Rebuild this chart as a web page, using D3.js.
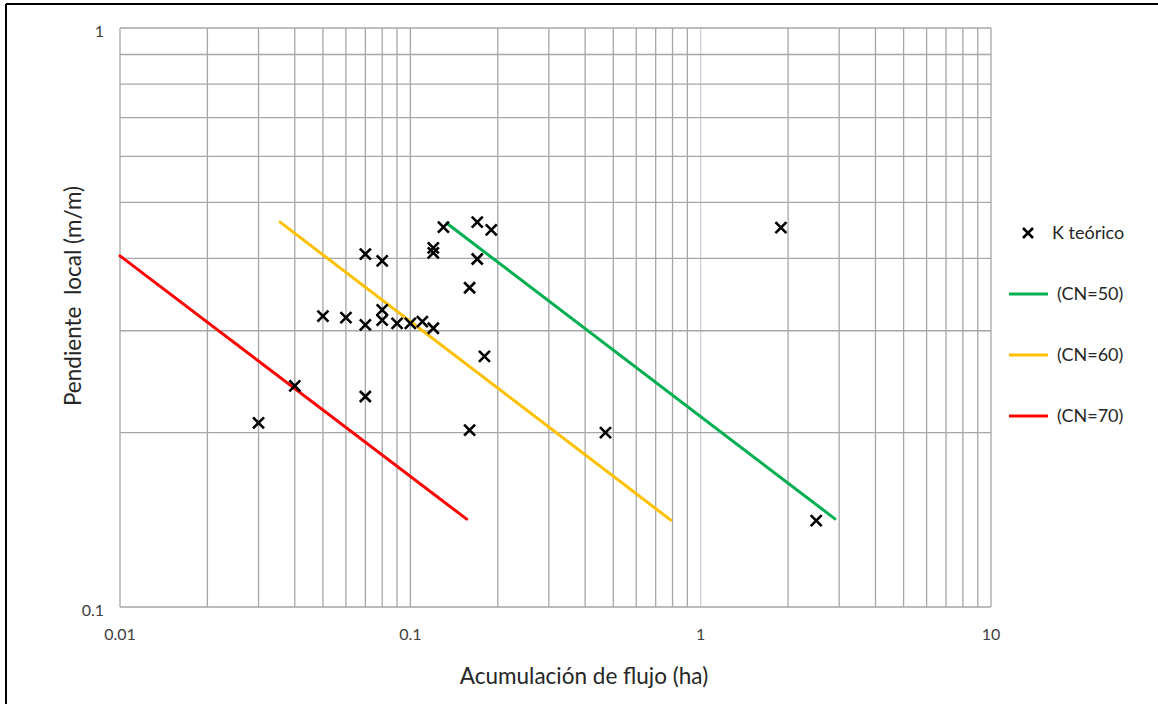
<!DOCTYPE html>
<html>
<head>
<meta charset="utf-8">
<script src="https://cdn.jsdelivr.net/npm/d3@7"></script>
<style>
  body { margin: 0; background: #fff; }
  svg { display: block; }
</style>
</head>
<body>
<script>
const W = 1158, H = 704;

// K teórico points (flow accumulation ha, local slope m/m)
const kFlow  = [0.03, 0.04, 0.05, 0.06, 0.07, 0.07, 0.07, 0.08, 0.08, 0.08, 0.09, 0.10, 0.11, 0.12,
                0.12, 0.12, 0.13, 0.17, 0.19, 0.17, 0.16, 0.18, 0.16, 0.47, 1.89, 2.5];
const kSlope = [0.208, 0.241, 0.318, 0.316, 0.407, 0.307, 0.231, 0.396, 0.326, 0.313, 0.309, 0.309, 0.311, 0.303,
                0.417, 0.409, 0.453, 0.462, 0.448, 0.399, 0.356, 0.271, 0.202, 0.2, 0.452, 0.141];

// curves, start and end
const cn50Flow = [0.1335, 2.9],   cn50Slope = [0.46, 0.142];
const cn60Flow = [0.0356, 0.789], cn60Slope = [0.462, 0.1413];
const cn70Flow = [0.01, 0.1564],  cn70Slope = [0.404, 0.1418];

const xTicks = [0.01, 0.1, 1, 10];
const yTicks = [0.1, 1];

const curves = [
  { name: '(CN=50)', color: '#00B050', xs: cn50Flow, ys: cn50Slope },
  { name: '(CN=60)', color: '#FFC000', xs: cn60Flow, ys: cn60Slope },
  { name: '(CN=70)', color: '#FF0000', xs: cn70Flow, ys: cn70Slope }
];

const font = 'Lato, "Open Sans", sans-serif';

const svg = d3.select('body').append('svg')
  .attr('width', W).attr('height', H);

svg.append('rect').attr('width', W).attr('height', H).attr('fill', '#fff');

// frame (only top and left visible)
svg.append('line').attr('x1', 6).attr('x2', W).attr('y1', 4).attr('y2', 4)
  .attr('stroke', '#000').attr('stroke-width', 2);
svg.append('line').attr('x1', 6).attr('x2', 6).attr('y1', 4).attr('y2', H)
  .attr('stroke', '#000').attr('stroke-width', 2);

const x = d3.scaleLog().domain([0.01, 10]).range([120, 991]);
const y = d3.scaleLog().domain([0.1, 1]).range([607, 28]);

// grid
const xGrid = [];
for (let e = -2; e < 1; e++) for (let m = 1; m <= 9; m++) xGrid.push(m * Math.pow(10, e));
xGrid.push(10);
const yGrid = d3.range(1, 11).map(m => m / 10);

const grid = svg.append('g');
grid.selectAll('.vg').data(xGrid).join('line')
  .attr('x1', d => x(d)).attr('x2', d => x(d))
  .attr('y1', y(1)).attr('y2', y(0.1))
  .attr('stroke', d => Math.abs(d - 1) < 1e-9 ? '#c9d1dc' : '#a6a6a6')
  .attr('stroke-width', 1.3);
grid.selectAll('.hg').data(yGrid).join('line')
  .attr('x1', x(0.01)).attr('x2', x(10))
  .attr('y1', d => y(d)).attr('y2', d => y(d))
  .attr('stroke', '#a6a6a6').attr('stroke-width', 1.3);

// tick labels
svg.append('g').selectAll('text').data(xTicks).join('text')
  .attr('x', d => x(d)).attr('y', 633)
  .attr('text-anchor', 'middle').attr('dominant-baseline', 'central')
  .attr('font-family', font).attr('font-size', 16).attr('fill', '#404040')
  .text(d => String(d));
svg.append('g').selectAll('text').data(yTicks).join('text')
  .attr('x', 104).attr('y', d => y(d) + 2)
  .attr('text-anchor', 'end').attr('dominant-baseline', 'central')
  .attr('font-family', font).attr('font-size', 16).attr('fill', '#404040')
  .text(d => String(d));

// axis titles
svg.append('text').attr('x', 584).attr('y', 675)
  .attr('text-anchor', 'middle').attr('dominant-baseline', 'central')
  .attr('font-family', font).attr('font-size', 22.5).attr('fill', '#262626')
  .text('Acumulación de flujo (ha)');
svg.append('text')
  .attr('transform', 'translate(72,296) rotate(-90)')
  .attr('text-anchor', 'middle').attr('dominant-baseline', 'central')
  .attr('font-family', font).attr('font-size', 22.5).attr('fill', '#262626')
  .attr('xml:space', 'preserve')
  .text('Pendiente  local (m/m)');

// curves
const line = d3.line().x(d => x(d[0])).y(d => y(d[1]));
svg.append('g').selectAll('path').data(curves).join('path')
  .attr('d', c => line(d3.zip(c.xs, c.ys)))
  .attr('fill', 'none').attr('stroke', c => c.color)
  .attr('stroke-width', 3).attr('stroke-linecap', 'round');

// x markers
const cross = s => `M${-s},${-s}L${s},${s}M${-s},${s}L${s},${-s}`;
svg.append('g').selectAll('path').data(d3.zip(kFlow, kSlope)).join('path')
  .attr('transform', d => `translate(${x(d[0])},${y(d[1])})`)
  .attr('d', cross(5.5))
  .attr('stroke', '#000').attr('stroke-width', 2.6).attr('fill', 'none');

// legend
const lg = svg.append('g').attr('font-family', font).attr('font-size', 18).attr('fill', '#262626');
lg.append('path').attr('transform', 'translate(1028,233)').attr('d', cross(5))
  .attr('stroke', '#000').attr('stroke-width', 2.6);
lg.append('text').attr('x', 1052).attr('y', 232).attr('dominant-baseline', 'central').text('K teórico');
curves.forEach((c, i) => {
  const ly = 294 + i * 61;
  lg.append('line').attr('x1', 1009).attr('x2', 1048).attr('y1', ly).attr('y2', ly)
    .attr('stroke', c.color).attr('stroke-width', 3);
  lg.append('text').attr('x', 1057).attr('y', ly - 1).attr('dominant-baseline', 'central').text(c.name);
});
</script>
</body>
</html>
